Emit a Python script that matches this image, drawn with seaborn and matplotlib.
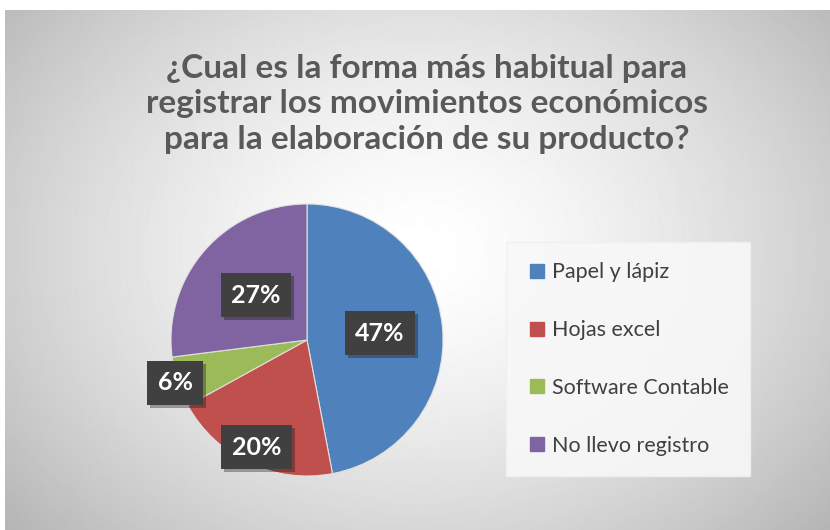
import numpy as np
import matplotlib
matplotlib.use("Agg")
import matplotlib.pyplot as plt
import matplotlib.patheffects as pe
from matplotlib.lines import Line2D
import seaborn as sns

# data
categories = ["Papel y lápiz", "Hojas excel", "Software Contable", "No llevo registro"]
values = [47, 20, 6, 27]
colors = ["#4f81bd", "#c0504d", "#9bbb59", "#8064a2"]
label_dist = [0.54, 0.87, 1.02, 0.5]
title = "¿Cual es la forma más habitual para\nregistrar los movimientos económicos\npara la elaboración de su producto?"

sns.set_theme(style="white")
plt.rcParams["font.family"] = ["Lato", "DejaVu Sans"]

W, H = 830, 530
fig = plt.figure(figsize=(W / 100, H / 100), dpi=100)
fig.patch.set_facecolor("white")

# radial gradient background
bg = fig.add_axes([5 / W, 0, 825 / W, 520 / H])
yy, xx = np.mgrid[0:520, 0:825]
r = np.sqrt(((xx - 412) / 560) ** 2 + ((yy - 240) / 430) ** 2)
shade = np.clip(1 - 0.3 * r ** 1.5, 0, 1)
bg.imshow(shade, cmap="gray", vmin=0, vmax=1, aspect="auto", interpolation="bilinear")
bg.set_axis_off()

fig.text(427 / W, (H - 104) / H, title, ha="center", va="center", fontsize=24,
         fontweight="bold", color="#595959", linespacing=1.28)

# pie
ax = fig.add_axes([171 / W, 54 / H, 272 / W, 272 / H])
wedges, _ = ax.pie(values, colors=colors, startangle=90, counterclock=False,
                   wedgeprops=dict(linewidth=0.8, edgecolor="#e0e0e0"))
ax.set_xlim(-1, 1)
ax.set_ylim(-1, 1)
ax.set_axis_off()

for w, v, d in zip(wedges, values, label_dist):
    ang = np.deg2rad((w.theta1 + w.theta2) / 2)
    t = ax.text(d * np.cos(ang), d * np.sin(ang), f"{v}%", ha="center", va="center",
                fontsize=18, fontweight="bold", color="white", clip_on=False,
                bbox=dict(boxstyle="square,pad=0.42", facecolor="#404040", edgecolor="none"))
    t.get_bbox_patch().set_path_effects([pe.SimplePatchShadow(offset=(2, -2), alpha=0.35), pe.Normal()])

# legend
handles = [Line2D([], [], marker="s", linestyle="none", markersize=10,
                  markerfacecolor=c, markeredgecolor=c) for c in colors]
leg = fig.legend(handles, categories, loc="center", bbox_to_anchor=(628 / W, 1 - 359 / H),
                 fontsize=15.5, labelspacing=1.75, handletextpad=0.2, borderpad=0.95,
                 frameon=True, fancybox=False, labelcolor="#404040",
                 handlelength=1.0, borderaxespad=0)
leg.get_frame().set_facecolor("#f8f8f8")
leg.get_frame().set_edgecolor("#f0f0f0")
leg.get_frame().set_alpha(0.9)

fig.savefig("out.png", dpi=100)
